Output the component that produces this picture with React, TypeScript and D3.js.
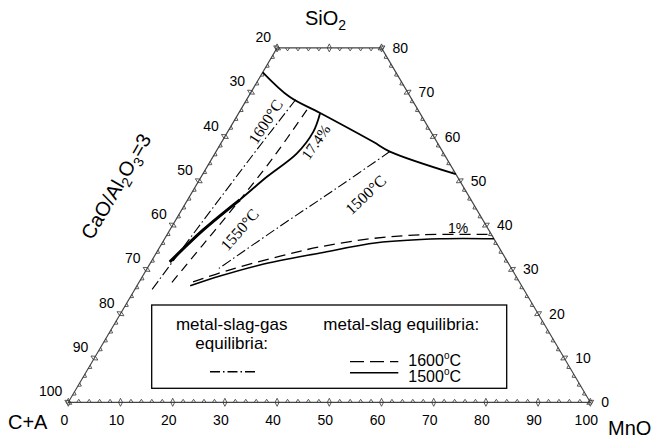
import React from "react";
import * as d3 from "d3";

// ternary points are [MnO, SiO2]; C+A = 100 - MnO - SiO2
const topBoundary = [[0, 74.5], [8.0, 68.9], [15.6, 65.3], [29.0, 58.8], [33.3, 56.6], [48.5, 51.5]];
const solid174 = [[15.6, 65.3], [16.4, 61.1], [15.7, 56.2], [12.6, 50.9], [10.0, 45.7], [6.4, 38.9], [3.6, 31.7]];
const solid174Thick = [[10.0, 45.7], [6.4, 38.9], [3.6, 31.7]];
const dashed1600Upper = [[12.7, 66.0], [11.6, 55.0], [9.9, 45.0], [8.0, 35.5], [6.1, 26.0]];
const dashDot1600 = [[9.4, 68.3], [7.6, 57.0], [5.9, 45.0], [4.4, 34.0], [3.3, 25.4]];
const dashDot1500 = [[33.3, 56.6], [27.0, 48.0], [20.5, 39.5], [13.5, 29.9]];
const solid1500Lower = [[10.2, 26.3], [14.8, 28.5], [21.2, 31.0], [31.4, 33.7], [41.1, 36.0], [52.8, 36.9], [63.1, 36.9]];
const dashed1600Lower = [[10.3, 27.2], [16.0, 29.9], [24.1, 33.0], [30.7, 35.1], [39.3, 36.9], [48.5, 37.8], [62.1, 37.9]];

const bottomLabels = [0, 10, 20, 30, 40, 50, 60, 70, 80, 90, 100];
const leftLabels = [100, 90, 80, 70, 60, 50, 40, 30, 20]; // C+A along left edge
const rightLabels = [0, 10, 20, 30, 40, 50, 60, 70, 80]; // SiO2 along right edge
const SMAX = 80;

const x0 = 68.3, y0 = 402.3, L = 522, H = 443;
const xs = d3.scaleLinear().domain([0, 100]).range([x0, x0 + L]);
const ys = d3.scaleLinear().domain([0, 100]).range([y0, y0 - H]);
const P = (m: number, s: number): [number, number] => [xs(m + s / 2), ys(s)];

const lineGen = d3.line<number[]>().x(d => P(d[0], d[1])[0]).y(d => P(d[0], d[1])[1]).curve(d3.curveCatmullRom);

const SANS = "Liberation Sans, Arial, sans-serif";
const SERIF = "Liberation Serif, Times New Roman, serif";

function ticks() {
  const out: JSX.Element[] = [];
  const edges = [
    { a: P(0, 0), b: P(100, 0), n: 50 },
    { a: P(0, 0), b: P(0, SMAX), n: 40 },
    { a: P(100, 0), b: P(100 - SMAX, SMAX), n: 40 },
    { a: P(0, SMAX), b: P(100 - SMAX, SMAX), n: 10 },
  ];
  const cx = xs(50), cy = ys(30);
  edges.forEach((e, ei) => {
    const dx = e.b[0] - e.a[0], dy = e.b[1] - e.a[1];
    const len = Math.hypot(dx, dy);
    const tx = dx / len, ty = dy / len;
    let nx = -ty, ny = tx;
    const mx = (e.a[0] + e.b[0]) / 2, my = (e.a[1] + e.b[1]) / 2;
    if ((cx - mx) * nx + (cy - my) * ny < 0) { nx = -nx; ny = -ny; }
    for (let i = 0; i <= e.n; i++) {
      const f = i / e.n;
      const px = e.a[0] + dx * f, py = e.a[1] + dy * f;
      const major = i % 5 === 0;
      const w = 2, h = major ? 4 : 3;
      let d = `M${px - tx * w},${py - ty * w}L${px + nx * h},${py + ny * h}L${px + tx * w},${py + ty * w}`;
      if (major) d += `M${px - tx * w},${py - ty * w}L${px - nx * h},${py - ny * h}L${px + tx * w},${py + ty * w}`;
      out.push(<path key={`t${ei}-${i}`} d={d} fill="none" stroke="#333" strokeWidth={0.8} />);
    }
  });
  return out;
}

export default function App() {
  const outline = [P(0, 0), P(100, 0), P(100 - SMAX, SMAX), P(0, SMAX)];
  return (
    <svg width={652} height={439} style={{ position: "absolute", left: 0, top: 0, background: "#fff" }}>
      <path d={`M${outline.map(p => p.join(",")).join("L")}Z`} fill="none" stroke="#444" strokeWidth={1.2} />
      {ticks()}

      {bottomLabels.map(v => (
        <text key={`b${v}`} x={P(v, 0)[0] - 4} y={y0 + 23} textAnchor="middle" fontFamily={SANS} fontSize={14}>{v}</text>
      ))}
      {leftLabels.map(v => {
        const [px, py] = P(0, 100 - v);
        return <text key={`l${v}`} x={px - 6} y={py - 6} textAnchor="end" fontFamily={SANS} fontSize={14}>{v}</text>;
      })}
      {rightLabels.map(v => {
        const [px, py] = P(100 - v, v);
        return <text key={`r${v}`} x={px + 11} y={py + 5} textAnchor="start" fontFamily={SANS} fontSize={14}>{v}</text>;
      })}

      <text x={305} y={25} fontFamily={SANS} fontSize={20}>SiO<tspan fontSize={14} dy={5}>2</tspan></text>
      <text x={8} y={429} fontFamily={SANS} fontSize={20}>C+A</text>
      <text x={608} y={435} fontFamily={SANS} fontSize={20}>MnO</text>
      <text transform="translate(122,190) rotate(-59.6)" textAnchor="middle" fontFamily={SANS} fontSize={20}>
        CaO/Al<tspan fontSize={14} dy={5}>2</tspan><tspan dy={-5}>O</tspan><tspan fontSize={14} dy={5}>3</tspan><tspan dy={-5}>=3</tspan>
      </text>

      <g fill="none" stroke="#000">
        <path d={lineGen(topBoundary) || ""} strokeWidth={1.8} />
        <path d={lineGen(solid174) || ""} strokeWidth={1.8} />
        <path d={lineGen(solid174Thick) || ""} strokeWidth={3} />
        <path d={lineGen(dashed1600Upper) || ""} strokeWidth={1.2} strokeDasharray="9,6" />
        <path d={lineGen(dashDot1600) || ""} strokeWidth={1.1} strokeDasharray="10,3,1.5,3" />
        <path d={lineGen(dashDot1500) || ""} strokeWidth={1.1} strokeDasharray="10,3,1.5,3" />
        <path d={lineGen(solid1500Lower) || ""} strokeWidth={1.5} />
        <path d={lineGen(dashed1600Lower) || ""} strokeWidth={1.3} strokeDasharray="11,6" />
      </g>

      <g fontFamily={SERIF} fontSize={16}>
        <text transform="translate(266,122) rotate(-57)" textAnchor="middle" dy={5}>1600°C</text>
        <text transform="translate(240,230) rotate(-49)" textAnchor="middle" dy={5}>1550°C</text>
        <text transform="translate(366,195) rotate(-43)" textAnchor="middle" dy={5}>1500°C</text>
        <text transform="translate(316,142) rotate(-55)" textAnchor="middle" dy={5} fontSize={15}>17.4%</text>
      </g>
      <text x={458} y={233} textAnchor="middle" fontFamily={SANS} fontSize={14}>1%</text>

      <rect x={151.7} y={305} width={355} height={83.3} fill="#fff" stroke="#000" strokeWidth={1.3} />
      <g fontFamily={SANS} fontSize={17}>
        <text x={231.7} y={330} textAnchor="middle">metal-slag-gas</text>
        <text x={231.7} y={349} textAnchor="middle">equilibria:</text>
        <text x={323.3} y={330}>metal-slag equilibria:</text>
      </g>
      <g fontFamily={SANS} fontSize={16}>
        <text x={408.3} y={366}>1600<tspan fontSize={10} dy={-7}>o</tspan><tspan dy={7}>C</tspan></text>
        <text x={408.3} y={381.5}>1500<tspan fontSize={10} dy={-7}>o</tspan><tspan dy={7}>C</tspan></text>
      </g>
      <line x1={210} y1={371.7} x2={257} y2={371.7} stroke="#000" strokeWidth={1.4} strokeDasharray="10,3,1.5,3" />
      <line x1={350} y1={361.7} x2={398.3} y2={361.7} stroke="#000" strokeWidth={1.2} strokeDasharray="14,6" />
      <line x1={350} y1={372.7} x2={398.3} y2={372.7} stroke="#000" strokeWidth={1.4} />
    </svg>
  );
}
